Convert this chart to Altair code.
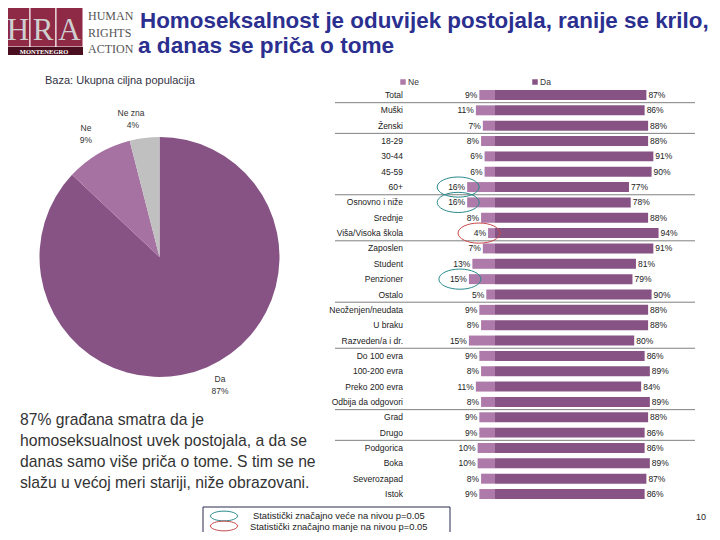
import altair as alt
import pandas as pd

# ---------------- data ----------------
cats = ["Total", "Muški", "Ženski", "18-29", "30-44", "45-59", "60+",
        "Osnovno i niže", "Srednje", "Viša/Visoka škola", "Zaposlen",
        "Student", "Penzioner", "Ostalo", "Neoženjen/neudata", "U braku",
        "Razveden/a i dr.", "Do 100 evra", "100-200 evra", "Preko 200 evra",
        "Odbija da odgovori", "Grad", "Drugo", "Podgorica", "Boka",
        "Severozapad", "Istok"]
ne = [9, 11, 7, 8, 6, 6, 16, 16, 8, 4, 7, 13, 15, 5, 9, 8, 15, 9, 8, 11, 8,
      9, 9, 10, 10, 8, 9]
da = [87, 86, 88, 88, 91, 90, 77, 78, 88, 94, 91, 81, 79, 90, 88, 88, 80,
      86, 89, 84, 89, 88, 86, 86, 89, 87, 86]
sep_after = ["Total", "Ženski", "60+", "Viša/Visoka škola", "Ostalo",
             "Razveden/a i dr.", "Odbija da odgovori", "Drugo"]
sig_higher = ["60+", "Osnovno i niže", "Penzioner"]
sig_lower = ["Viša/Visoka škola"]

pie_cats = ["Da", "Ne", "Ne zna"]
pie_vals = [87, 9, 4]

title1 = "Homoseksalnost je oduvijek postojala, ranije se krilo,"
title2 = "a danas se priča o tome"
baza = "Baza: Ukupna ciljna populacija"
para = ["87% građana smatra da je",
        "homoseksualnost uvek postojala, a da se",
        "danas samo više priča o tome. S tim se ne",
        "slažu u većoj meri stariji, niže obrazovani."]
legend_hi = "Statistički značajno veće na nivou p=0.05"
legend_lo = "Statistički značajno manje na nivou p=0.05"

# ---------------- styling ----------------
FONT = "Liberation Sans"
C_DA = "#865384"
C_NE = "#ad7aa9"
C_NEZNA = "#c0c0c0"
C_PIE_NE = "#a572a1"
TXT = "#333333"

df = pd.DataFrame({"cat": cats, "ne": ne, "da": da})
df["neg"] = -df["ne"]
df["zero"] = 0
df["ne_lbl"] = df["ne"].astype(str) + "%"
df["da_lbl"] = df["da"].astype(str) + "%"

xs = alt.Scale(domain=[-100, 100], range=[313, 661])
ys = alt.Scale(domain=cats, range=[79.3, 493.7], paddingInner=0.35,
               paddingOuter=0.175)
X = lambda f: alt.X(f, type="quantitative", scale=xs, axis=None)
Y = alt.Y("cat:N", scale=ys, axis=None, sort=cats)

base = alt.Chart(df)

bars_ne = base.mark_bar(color=C_NE).encode(x=X("neg"), x2="zero", y=Y)
bars_da = base.mark_bar(color=C_DA).encode(x=X("zero"), x2="da", y=Y)
lbl_cat = base.mark_text(align="right", font=FONT, fontSize=8.5,
                         color="#222222").encode(x=alt.value(395), y=Y,
                                                 text="cat")
lbl_ne = base.mark_text(align="right", dx=-2, font=FONT, fontSize=8.5,
                        color="#222222").encode(x=X("neg"), y=Y, text="ne_lbl")
lbl_da = base.mark_text(align="left", dx=2, font=FONT, fontSize=8.5,
                        color="#222222").encode(x=X("da"), y=Y, text="da_lbl")

seps = alt.Chart(df[df["cat"].isin(sep_after)]).mark_rule(
    yOffset=7.7, color="#808080", strokeWidth=1).encode(
    y=Y, x=alt.value(327), x2=alt.value(687))

ell_path = "M -1 0 A 1 0.48 0 1 0 1 0 A 1 0.48 0 1 0 -1 0 Z"
ell_hi = alt.Chart(df[df["cat"].isin(sig_higher)]).mark_point(
    shape=ell_path, size=1764, filled=False, stroke="#2a8a8c",
    strokeWidth=1, xOffset=-9, opacity=1).encode(x=X("neg"), y=Y)
ell_lo = alt.Chart(df[df["cat"].isin(sig_lower)]).mark_point(
    shape=ell_path, size=1764, filled=False, stroke="#c8484a",
    strokeWidth=1, xOffset=-9, opacity=1).encode(x=X("neg"), y=Y)

# pie
pie_df = pd.DataFrame({"c": pie_cats, "v": pie_vals,
                       "o": list(range(len(pie_cats)))})
pie = alt.Chart(pie_df).mark_arc(radius=120).encode(
    theta=alt.Theta("v:Q", stack=True),
    color=alt.Color("c:N", scale=alt.Scale(domain=pie_cats,
                                           range=[C_DA, C_PIE_NE, C_NEZNA]),
                    legend=None),
    order=alt.Order("o:Q"),
    x=alt.value(151.5), y=alt.value(249))


def txt(s, x, y, size=9, color=TXT, align="left", weight="normal",
        font=FONT, baseline="alphabetic"):
    return alt.Chart(pd.DataFrame({"t": [s]})).mark_text(
        align=align, baseline=baseline, fontSize=size, color=color,
        fontWeight=weight, font=font).encode(
        x=alt.value(x), y=alt.value(y), text="t:N")


def box(x1, y1, x2, y2, fill, stroke=None, sw=1):
    kw = dict(fill=fill)
    if stroke:
        kw.update(stroke=stroke, strokeWidth=sw)
    return alt.Chart(pd.DataFrame({"a": [0]})).mark_rect(**kw).encode(
        x=alt.value(x1), x2=alt.value(x2), y=alt.value(y1), y2=alt.value(y2))


pie_lbls = [
    txt("Ne zna", 123, 108, 8.5, align="center"),
    txt("4%", 125, 120, 8.5, align="center"),
    txt("Ne", 78, 123, 8.5, align="center"),
    txt("9%", 78, 135, 8.5, align="center"),
    txt("Da", 212, 374, 8.5, align="center"),
    txt("87%", 212, 386, 8.5, align="center"),
]

# legend header for bars
leg_hdr = [
    alt.Chart(pd.DataFrame({"a": [0]})).mark_square(
        size=30, color=C_NE, opacity=1).encode(x=alt.value(395), y=alt.value(74)),
    txt("Ne", 400, 77, 8.5),
    alt.Chart(pd.DataFrame({"a": [0]})).mark_square(
        size=30, color=C_DA, opacity=1).encode(x=alt.value(527), y=alt.value(74)),
    txt("Da", 532, 77, 8.5),
]

# title + logo
logo = [
    box(-3, -3, 22, 39, "#8e2a46", "white", 1),
    box(22, -3, 48, 39, "#8e2a46", "white", 1),
    box(48, -3, 75, 39, "#8e2a46", "white", 1),
    txt("H", 10, 32, 31, "#cfcfcf", "center", "normal", "Liberation Serif"),
    txt("R", 35, 32, 31, "#cfcfcf", "center", "normal", "Liberation Serif"),
    txt("A", 61.5, 32, 31, "#cfcfcf", "center", "normal", "Liberation Serif"),
    box(-3, 39, 75, 47, "#4a0f1e"),
    txt("MONTENEGRO", 36, 45.5, 6.5, "white", "center", "bold", "Liberation Serif"),
    txt("HUMAN", 80, 12, 12, "#555555", "left", "normal", "Liberation Serif"),
    txt("RIGHTS", 80, 28.5, 12, "#555555", "left", "normal", "Liberation Serif"),
    txt("ACTION", 80, 45, 12, "#555555", "left", "normal", "Liberation Serif"),
]
titles = [
    txt(title1, 132, 20, 22.4, "#2b2f8f", weight="bold"),
    txt(title2, 130, 45, 22.6, "#2b2f8f", weight="bold"),
    txt(baza, 37, 76, 11, "#333344"),
]
paragraph = [txt(line, 12, 417 + 21 * i, 15.7, "#333333")
             for i, line in enumerate(para)]

# bottom legend box
ell_leg = "M -1 0 A 1 0.36 0 1 0 1 0 A 1 0.36 0 1 0 -1 0 Z"
bottom = [
    box(195, 499, 442, 530, "white", "#2a2a55", 1),
    alt.Chart(pd.DataFrame({"a": [0]})).mark_point(
        shape=ell_leg, size=729, filled=False, stroke="#2a8a8c",
        strokeWidth=1, opacity=1).encode(x=alt.value(216), y=alt.value(508)),
    alt.Chart(pd.DataFrame({"a": [0]})).mark_point(
        shape=ell_leg, size=729, filled=False, stroke="#c8484a",
        strokeWidth=1, opacity=1).encode(x=alt.value(216), y=alt.value(518)),
    txt(legend_hi, 245, 511, 9.4, "#222222"),
    txt(legend_lo, 242, 522, 9.4, "#222222"),
    txt("10", 693, 512, 9, "#222222", "center"),
]

layers = ([pie] + pie_lbls + [bars_ne, bars_da, seps, lbl_cat, lbl_ne, lbl_da,
                              ell_hi, ell_lo] + leg_hdr + logo + titles
          + paragraph + bottom)

chart = alt.layer(*layers).properties(
    width=704, height=524,
    autosize=alt.AutoSizeParams(type="none"),
    padding=0, background="white",
).configure_view(stroke=None)

chart.save("out.html", embed_options={"renderer": "svg", "actions": False})
